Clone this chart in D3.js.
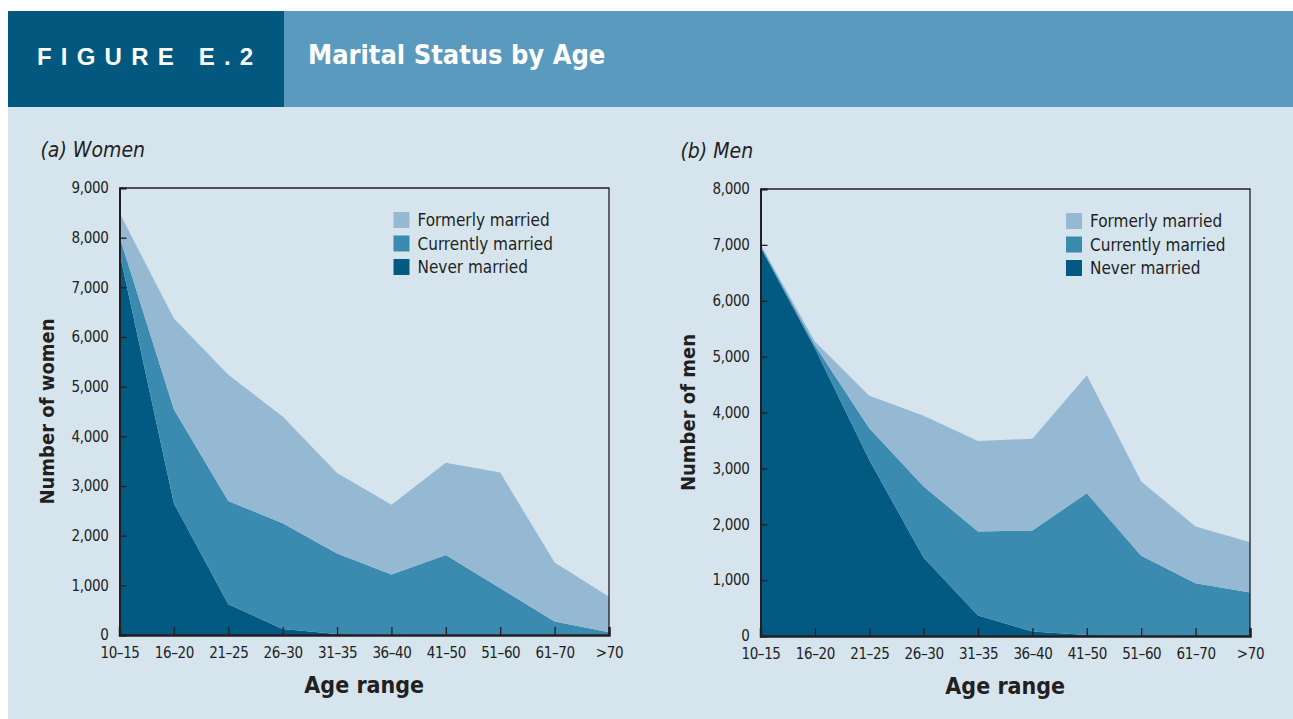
<!DOCTYPE html>
<html>
<head>
<meta charset="utf-8">
<script src="https://cdn.jsdelivr.net/npm/d3@7"></script>
<style>
  body { margin: 0; background: #ffffff; }
  svg { display: block; }
  text { font-family: "Liberation Sans Narrow", "DejaVu Sans Condensed", "Arial Narrow", sans-serif; fill: #231f20; }
  .axis path, .axis line { stroke: #231f20; }
</style>
</head>
<body>
<svg id="chart" width="1293" height="719"></svg>
<script>
// categories and tick labels
var ageRanges = ["10\u201315", "16\u201320", "21\u201325", "26\u201330", "31\u201335", "36\u201340", "41\u201350", "51\u201360", "61\u201370", ">70"];
var statusKeys = ["never", "currently", "formerly"];
var statusLabels = {formerly: "Formerly married", currently: "Currently married", never: "Never married"};
var womenTicks = [0, 1000, 2000, 3000, 4000, 5000, 6000, 7000, 8000, 9000];
var menTicks = [0, 1000, 2000, 3000, 4000, 5000, 6000, 7000, 8000];

// women counts by status
var womenNever     = [7700, 2650, 620, 120, 20, 5, 0, 0, 0, 0];
var womenCurrently = [320, 1890, 2080, 2130, 1620, 1215, 1610, 940, 270, 55];
var womenFormerly  = [480, 1830, 2540, 2150, 1620, 1400, 1860, 2330, 1190, 715];

// men counts by status
var menNever     = [6960, 5150, 3150, 1400, 365, 80, 20, 5, 0, 0];
var menCurrently = [30, 50, 570, 1275, 1505, 1810, 2535, 1430, 945, 780];
var menFormerly  = [20, 70, 580, 1265, 1620, 1640, 2110, 1330, 1015, 900];

var colors = {formerly: "#95b9d3", currently: "#3b8ab0", never: "#025a83"};

var svg = d3.select("#chart");

// background + header
svg.append("rect").attr("x", 8).attr("y", 107).attr("width", 1285).attr("height", 612).attr("fill", "#d6e4ee");
svg.append("rect").attr("x", 8).attr("y", 11).attr("width", 276).attr("height", 96).attr("fill", "#02587f");
svg.append("rect").attr("x", 284).attr("y", 11).attr("width", 1009).attr("height", 96).attr("fill", "#5b9abf");
svg.append("text").attr("x", 37).attr("y", 65).text("FIGURE E.2")
  .style("font-family", "Liberation Sans, Arial, sans-serif")
  .style("font-weight", "bold").style("font-size", "24px").style("letter-spacing", "9.2px").style("fill", "#ffffff");
svg.append("text").attr("x", 308).attr("y", 64).text("Marital Status by Age")
  .style("font-weight", "bold").style("font-size", "27px").style("fill", "#ffffff");

function toRows(never, currently, formerly){
  var rows = [];
  for(var i = 0; i < ageRanges.length; i++){
    rows.push({age: ageRanges[i], never: never[i], currently: currently[i], formerly: formerly[i]});
  }
  return rows;
}

function drawPanel(opt){
  var g = svg.append("g").attr("transform", "translate(" + opt.left + "," + opt.top + ")");
  var width = opt.width, height = opt.height;

  var x = d3.scalePoint().domain(ageRanges).range([0, width]);
  var y = d3.scaleLinear().domain([0, opt.max]).range([height, 0]);

  var series = d3.stack().keys(statusKeys)(opt.rows);
  var area = d3.area()
    .x(function(d){ return x(d.data.age); })
    .y0(function(d){ return y(d[0]); })
    .y1(function(d){ return y(d[1]); });

  g.selectAll(".layer")
    .data(series)
    .enter().append("path")
    .attr("class", "layer")
    .attr("d", area)
    .attr("fill", function(d){ return colors[d.key]; });

  // frame top/right
  g.append("path")
    .attr("d", "M0,0H" + width + "V" + height)
    .attr("fill", "none").attr("stroke", "#231f20").attr("stroke-width", 1.3);

  var yAxis = g.append("g").attr("class", "axis")
    .call(d3.axisLeft(y).tickValues(opt.ticks).tickFormat(d3.format(",")).tickSize(-7).tickPadding(11));
  yAxis.select(".domain").attr("stroke-width", 2);
  yAxis.selectAll("line").attr("stroke-width", 1.3);
  yAxis.selectAll("text").style("font-size", "15px").style("letter-spacing", "-0.3px");

  var xAxis = g.append("g").attr("class", "axis")
    .attr("transform", "translate(0," + height + ")")
    .call(d3.axisBottom(x).tickSize(-8).tickPadding(12));
  xAxis.select(".domain").attr("stroke-width", 2.5);
  xAxis.selectAll("line").attr("stroke-width", 1.3);
  xAxis.selectAll("text").style("font-size", "15px").style("letter-spacing", "-0.4px");

  // panel title
  g.append("text").attr("x", opt.titleX).attr("y", -31).text(opt.title)
    .style("font-style", "italic").style("font-size", "21px");

  // axis titles
  g.append("text")
    .attr("transform", "translate(" + opt.yTitleX + "," + (height / 2) + ") rotate(-90)")
    .attr("text-anchor", "middle")
    .text(opt.yTitle)
    .style("font-weight", "bold").style("font-size", "20px");
  g.append("text").attr("x", width / 2).attr("y", height + 58)
    .attr("text-anchor", "middle").text("Age range")
    .style("font-weight", "bold").style("font-size", "23px");

  // legend
  var legend = g.append("g").attr("transform", "translate(" + opt.legendX + ",24)");
  var order = ["formerly", "currently", "never"];
  var item = legend.selectAll(".item").data(order).enter().append("g")
    .attr("transform", function(d, i){ return "translate(0," + (i * 23.5) + ")"; });
  item.append("rect").attr("width", 16).attr("height", 16).attr("fill", function(d){ return colors[d]; });
  item.append("text").attr("x", 24).attr("y", 14).text(function(d){ return statusLabels[d]; })
    .style("font-size", "17px");
}

drawPanel({
  left: 119.5, top: 188, width: 489.5, height: 447, max: 9000, ticks: womenTicks,
  rows: toRows(womenNever, womenCurrently, womenFormerly),
  title: "(a) Women", titleX: -79, yTitle: "Number of women", yTitleX: -66, legendX: 274
});

drawPanel({
  left: 760.5, top: 189, width: 489.5, height: 447, max: 8000, ticks: menTicks,
  rows: toRows(menNever, menCurrently, menFormerly),
  title: "(b) Men", titleX: -80, yTitle: "Number of men", yTitleX: -66, legendX: 305.5
});
</script>
</body>
</html>
